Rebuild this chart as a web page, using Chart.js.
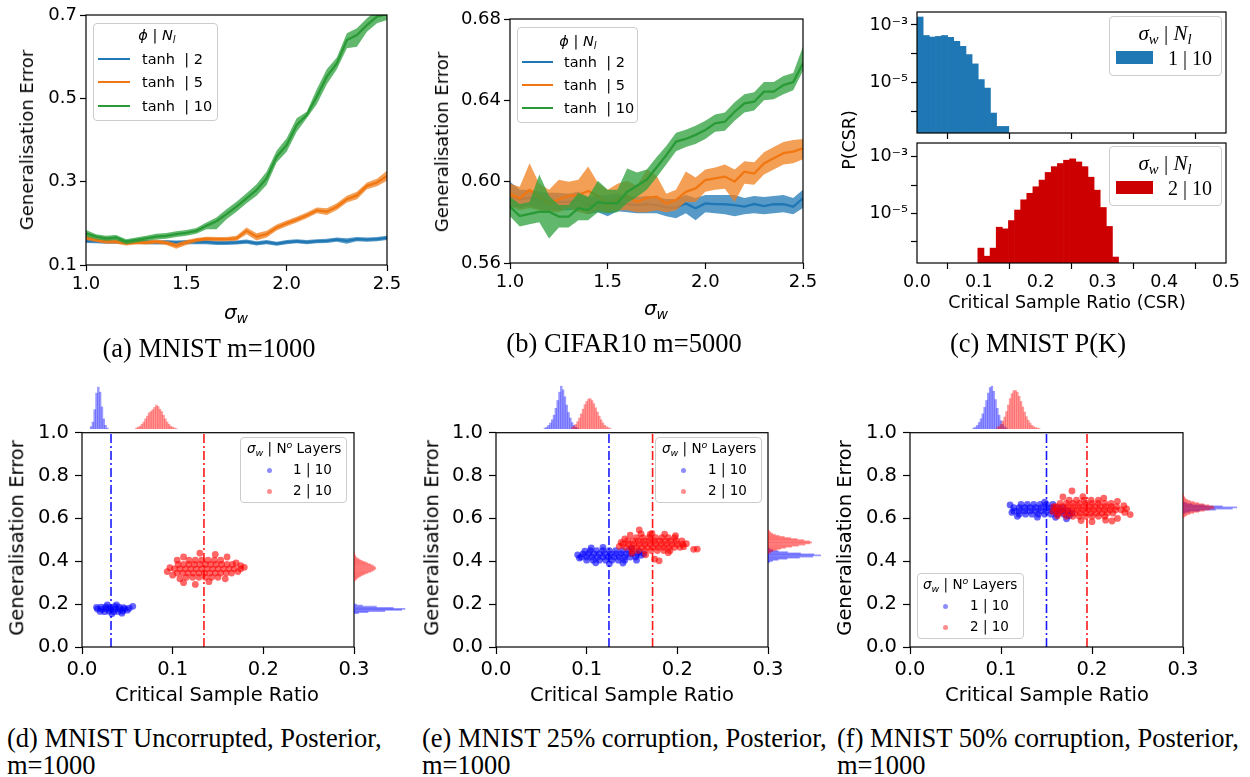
<!DOCTYPE html>
<html>
<head>
<meta charset="utf-8">
<script src="https://cdn.jsdelivr.net/npm/chart.js@4.4.1/dist/chart.umd.min.js"></script>
<style>
  body { margin: 0; width: 1250px; height: 777px; background: #fff; position: relative; overflow: hidden; font-family: 'DejaVu Sans', sans-serif; }
  canvas { position: absolute; }
  .t { position: absolute; white-space: pre; line-height: 1; color: #000; z-index: 3; }
  .c { transform: translate(-50%, -50%); }
  .lc { transform: translate(0, -50%); }
  .rot { transform: translate(-50%, -50%) rotate(-90deg); }
  .serif { font-family: 'Liberation Serif', serif; }
  .leg { position: absolute; background: rgba(255,255,255,0.8); border: 1px solid #ccc; border-radius: 4px; box-sizing: border-box; z-index: 2; }
  .sw { position: absolute; z-index: 3; }
  .sb { font-size: 70%; position: relative; top: 0.3em; }
  .sp { font-size: 70%; position: relative; top: -0.55em; }
</style>
</head>
<body>
<script>
// ---------- data: (a) MNIST m=1000 ----------
const sigma = [1.00,1.05,1.10,1.15,1.20,1.25,1.30,1.35,1.40,1.45,1.50,1.55,1.60,1.65,1.70,1.75,1.80,1.85,1.90,1.95,2.00,2.05,2.10,2.15,2.20,2.25,2.30,2.35,2.40,2.45,2.50];
const sigmaTicks = [1.0, 1.5, 2.0, 2.5];

const aBlueMean = [.158,.157,.156,.156,.155,.156,.155,.154,.155,.154,.155,.155,.155,.153,.153,.154,.156,.152,.155,.151,.155,.157,.155,.157,.158,.161,.158,.162,.161,.162,.165];
const aBlueLo   = [.153,.152,.151,.151,.150,.151,.150,.149,.150,.149,.150,.150,.150,.148,.148,.149,.151,.147,.150,.146,.150,.152,.150,.152,.153,.156,.151,.157,.156,.157,.160];
const aBlueHi   = [.163,.162,.161,.161,.160,.161,.160,.159,.160,.159,.160,.160,.160,.158,.158,.159,.161,.157,.160,.156,.160,.162,.160,.162,.163,.166,.164,.167,.166,.167,.170];
const aOrangeMean = [.166,.160,.156,.156,.152,.154,.154,.156,.153,.146,.154,.160,.163,.162,.162,.164,.182,.168,.174,.190,.200,.209,.219,.231,.228,.240,.258,.267,.290,.298,.314];
const aOrangeLo   = [.160,.155,.151,.151,.147,.149,.149,.151,.148,.139,.148,.155,.158,.157,.157,.158,.174,.159,.166,.183,.193,.202,.212,.224,.220,.232,.250,.258,.282,.289,.302];
const aOrangeHi   = [.172,.165,.161,.161,.157,.159,.159,.161,.158,.152,.160,.165,.168,.167,.167,.170,.190,.176,.182,.197,.207,.216,.226,.238,.236,.248,.266,.276,.298,.307,.326];
const aGreenMean = [.176,.168,.164,.166,.156,.160,.164,.168,.170,.174,.177,.182,.194,.205,.222,.240,.260,.280,.308,.360,.388,.436,.460,.504,.552,.584,.640,.652,.676,.696,.702];
const aGreenLo   = [.168,.162,.158,.160,.150,.154,.158,.161,.163,.167,.170,.175,.186,.186,.210,.228,.248,.266,.292,.346,.372,.420,.452,.486,.534,.570,.620,.624,.660,.680,.688];
const aGreenHi   = [.184,.174,.170,.172,.162,.166,.170,.175,.177,.181,.184,.189,.202,.214,.234,.252,.272,.294,.324,.374,.404,.452,.468,.522,.570,.598,.656,.668,.692,.712,.716];
const aYTicks = [0.1, 0.3, 0.5, 0.7];

// ---------- data: (b) CIFAR10 m=5000 ----------
const bBlueMean = [.5930,.5913,.5920,.5907,.5900,.5900,.5900,.5910,.5885,.5890,.5897,.5900,.5890,.5885,.5890,.5885,.5872,.5872,.5893,.5869,.5893,.5890,.5889,.5885,.5877,.5890,.5880,.5889,.5890,.5877,.5918];
const bBlueLo   = [.5880,.5870,.5880,.5865,.5860,.5860,.5860,.5865,.5840,.5850,.5830,.5855,.5850,.5845,.5845,.5845,.5830,.5820,.5845,.5810,.5850,.5845,.5840,.5830,.5840,.5845,.5840,.5845,.5850,.5840,.5870];
const bBlueHi   = [.6000,.5960,.5960,.5950,.5945,.5945,.5940,.5950,.5925,.5930,.5935,.5940,.5930,.5925,.5930,.5925,.5915,.5915,.5935,.5920,.5935,.5935,.5935,.5935,.5920,.5930,.5925,.5930,.5935,.5920,.5960];
const bOrangeMean = [.5940,.5918,.5959,.5926,.5890,.5913,.5930,.5934,.5954,.5930,.5880,.5915,.5930,.5900,.5920,.5926,.5893,.5910,.5950,.5967,.6008,.6016,.6025,.6000,.6049,.6040,.6090,.6115,.6140,.6148,.6164];
const bOrangeLo   = [.5880,.5860,.5870,.5860,.5850,.5850,.5870,.5850,.5840,.5860,.5850,.5860,.5860,.5850,.5850,.5860,.5850,.5860,.5900,.5900,.5950,.5960,.5965,.5900,.5990,.5985,.6035,.6060,.6085,.6090,.6110];
const bOrangeHi   = [.5990,.5975,.6090,.5990,.5960,.6010,.6000,.6010,.6075,.5995,.5960,.5990,.6005,.5980,.6060,.6030,.5940,.5960,.6050,.6020,.6060,.6070,.6085,.6060,.6100,.6095,.6145,.6170,.6195,.6205,.6210];
const bGreenMean = [.5877,.5831,.5841,.5852,.5852,.5828,.5828,.5869,.5860,.5900,.5893,.5895,.5950,.5980,.6010,.6070,.6130,.6197,.6210,.6230,.6254,.6287,.6295,.6344,.6385,.6393,.6443,.6443,.6475,.6490,.6582];
const bGreenLo   = [.5830,.5780,.5790,.5800,.5720,.5775,.5775,.5810,.5810,.5850,.5845,.5850,.5895,.5925,.5960,.6020,.6085,.6150,.6170,.6185,.6210,.6245,.6250,.6300,.6340,.6350,.6400,.6405,.6430,.6450,.6545];
const bGreenHi   = [.5925,.5890,.5900,.6035,.5930,.5885,.5885,.5945,.5925,.6005,.5960,.5960,.6065,.6045,.6060,.6120,.6175,.6240,.6255,.6275,.6300,.6330,.6340,.6390,.6430,.6440,.6490,.6490,.6520,.6535,.6665];
const bYTicks = [0.56, 0.60, 0.64, 0.68];

// ---------- data: (c) MNIST P(K), histogram bin centres and heights ----------
const cBlueBins = [0.0050,0.0149,0.0248,0.0347,0.0446,0.0545,0.0644,0.0743,0.0842,0.0941,0.1040,0.1139,0.1238,0.1337,0.1436];
const cBlueP    = [1.9e-3,4.3e-4,3.8e-4,4.0e-4,4.3e-4,3.7e-4,2.7e-4,1.8e-4,9.3e-5,4.4e-5,1.25e-5,6.3e-6,8.5e-7,2.9e-7,2.9e-7];
const cRedBins  = [0.1034,0.1133,0.1232,0.1331,0.1430,0.1529,0.1628,0.1727,0.1826,0.1925,0.2024,0.2123,0.2222,0.2321,0.2420,0.2519,0.2618,0.2717,0.2816,0.2915,0.3014,0.3113,0.3212];
const cRedP     = [5.8e-7,3.0e-7,5.8e-7,3.2e-6,2.8e-6,5.5e-6,1.3e-5,3.0e-5,5.1e-5,8.7e-5,1.5e-4,2.8e-4,4.5e-4,5.8e-4,7.6e-4,8.5e-4,6.6e-4,4.5e-4,1.9e-4,6.6e-5,1.6e-5,3.4e-6,2.8e-7];
const cXTicks = [0.0, 0.1, 0.2, 0.3, 0.4, 0.5];
const cYTicks = [1e-6, 1e-5, 1e-4, 1e-3];
const cYLabels = ['', '10\u207B\u2075', '', '10\u207B\u00B3'];

// ---------- data: (d)(e)(f) posterior scatter, [CSR, generalisation error] ----------
const csrTicks = [0.0, 0.1, 0.2, 0.3];
const errTicks = [0.0, 0.2, 0.4, 0.6, 0.8, 1.0];

const dBlue = [
  [0.020,0.166],[0.025,0.165],[0.030,0.167],[0.035,0.164],[0.040,0.166],[0.045,0.168],
  [0.017,0.177],[0.022,0.176],[0.027,0.178],[0.032,0.175],[0.037,0.177],[0.042,0.176],[0.047,0.178],
  [0.021,0.186],[0.026,0.187],[0.031,0.185],[0.036,0.188],[0.041,0.186],[0.046,0.184],
  [0.016,0.185],[0.050,0.172],[0.052,0.181],[0.056,0.190],[0.033,0.155],[0.028,0.196],[0.038,0.197],[0.044,0.158]];
const dRed = [
  [0.115,0.325],[0.122,0.325],[0.129,0.325],[0.136,0.325],[0.143,0.325],[0.150,0.325],
  [0.105,0.345],[0.111,0.345],[0.117,0.345],[0.123,0.345],[0.129,0.345],[0.135,0.345],[0.141,0.345],[0.147,0.345],[0.153,0.345],[0.159,0.345],[0.165,0.345],
  [0.102,0.365],[0.108,0.365],[0.114,0.365],[0.120,0.365],[0.126,0.365],[0.132,0.365],[0.138,0.365],[0.144,0.365],[0.150,0.365],[0.156,0.365],[0.162,0.365],[0.168,0.365],
  [0.106,0.385],[0.112,0.385],[0.118,0.385],[0.124,0.385],[0.130,0.385],[0.136,0.385],[0.142,0.385],[0.148,0.385],[0.154,0.385],[0.160,0.385],[0.166,0.385],
  [0.118,0.405],[0.125,0.405],[0.132,0.405],[0.139,0.405],[0.146,0.405],[0.153,0.405],
  [0.094,0.352],[0.097,0.370],[0.100,0.335],[0.108,0.318],[0.112,0.300],[0.125,0.292],[0.140,0.305],[0.158,0.318],[0.172,0.352],
  [0.175,0.365],[0.179,0.372],[0.170,0.392],[0.160,0.420],[0.147,0.432],[0.130,0.438],[0.112,0.420],[0.105,0.405],[0.175,0.380]];
const dBlueMeanCsr = 0.032, dRedMeanCsr = 0.1345;

const eBlue = [
  [0.100,0.405],[0.107,0.405],[0.114,0.405],[0.121,0.405],[0.128,0.405],[0.135,0.405],[0.142,0.405],
  [0.094,0.420],[0.100,0.420],[0.106,0.420],[0.112,0.420],[0.118,0.420],[0.124,0.420],[0.130,0.420],[0.136,0.420],[0.142,0.420],[0.148,0.420],[0.154,0.420],
  [0.096,0.435],[0.102,0.435],[0.108,0.435],[0.114,0.435],[0.120,0.435],[0.126,0.435],[0.132,0.435],[0.138,0.435],[0.144,0.435],[0.150,0.435],[0.156,0.435],
  [0.104,0.450],[0.111,0.450],[0.118,0.450],[0.125,0.450],[0.132,0.450],[0.139,0.450],[0.146,0.450],
  [0.090,0.430],[0.092,0.415],[0.098,0.447],[0.105,0.462],[0.118,0.465],[0.110,0.393],[0.125,0.388],[0.140,0.392],[0.155,0.405],[0.160,0.428],[0.158,0.445],[0.150,0.460],[0.163,0.435]];
const eRed = [
  [0.150,0.450],[0.157,0.450],[0.164,0.450],[0.171,0.450],[0.178,0.450],[0.185,0.450],[0.192,0.450],
  [0.143,0.465],[0.149,0.465],[0.155,0.465],[0.161,0.465],[0.167,0.465],[0.173,0.465],[0.179,0.465],[0.185,0.465],[0.191,0.465],[0.197,0.465],[0.203,0.465],
  [0.140,0.480],[0.146,0.480],[0.152,0.480],[0.158,0.480],[0.164,0.480],[0.170,0.480],[0.176,0.480],[0.182,0.480],[0.188,0.480],[0.194,0.480],[0.200,0.480],[0.206,0.480],
  [0.145,0.495],[0.151,0.495],[0.157,0.495],[0.163,0.495],[0.169,0.495],[0.175,0.495],[0.181,0.495],[0.187,0.495],[0.193,0.495],[0.199,0.495],[0.205,0.495],
  [0.155,0.510],[0.162,0.510],[0.169,0.510],[0.176,0.510],[0.183,0.510],[0.190,0.510],[0.197,0.510],
  [0.136,0.470],[0.138,0.488],[0.142,0.505],[0.148,0.522],[0.160,0.528],[0.172,0.530],[0.186,0.527],[0.198,0.520],[0.210,0.482],[0.207,0.468],
  [0.218,0.456],[0.222,0.457],[0.150,0.438],[0.165,0.430],[0.175,0.410],[0.180,0.402],[0.190,0.440],[0.158,0.546],[0.170,0.525]];
const eBlueMeanCsr = 0.1246, eRedMeanCsr = 0.1727;

const fBlue = [
  [0.120,0.620],[0.127,0.620],[0.134,0.620],[0.141,0.620],[0.148,0.620],[0.155,0.620],[0.162,0.620],[0.169,0.620],
  [0.114,0.635],[0.120,0.635],[0.126,0.635],[0.132,0.635],[0.138,0.635],[0.144,0.635],[0.150,0.635],[0.156,0.635],[0.162,0.635],[0.168,0.635],[0.174,0.635],
  [0.114,0.650],[0.120,0.650],[0.126,0.650],[0.132,0.650],[0.138,0.650],[0.144,0.650],[0.150,0.650],[0.156,0.650],[0.162,0.650],[0.168,0.650],
  [0.122,0.665],[0.129,0.665],[0.136,0.665],[0.143,0.665],[0.150,0.665],[0.157,0.665],
  [0.110,0.663],[0.112,0.628],[0.118,0.610],[0.140,0.606],[0.160,0.605],[0.175,0.612],[0.172,0.598],[0.178,0.625],[0.148,0.676]];
const fRed = [
  [0.172,0.610],[0.179,0.610],[0.186,0.610],[0.193,0.610],[0.200,0.610],[0.207,0.610],[0.214,0.610],
  [0.163,0.625],[0.169,0.625],[0.175,0.625],[0.181,0.625],[0.187,0.625],[0.193,0.625],[0.199,0.625],[0.205,0.625],[0.211,0.625],[0.217,0.625],[0.223,0.625],
  [0.160,0.640],[0.166,0.640],[0.172,0.640],[0.178,0.640],[0.184,0.640],[0.190,0.640],[0.196,0.640],[0.202,0.640],[0.208,0.640],[0.214,0.640],[0.220,0.640],[0.226,0.640],[0.232,0.640],
  [0.161,0.655],[0.167,0.655],[0.173,0.655],[0.179,0.655],[0.185,0.655],[0.191,0.655],[0.197,0.655],[0.203,0.655],[0.209,0.655],[0.215,0.655],[0.221,0.655],[0.227,0.655],
  [0.165,0.670],[0.172,0.670],[0.179,0.670],[0.186,0.670],[0.193,0.670],[0.200,0.670],[0.207,0.670],[0.214,0.670],[0.221,0.670],
  [0.175,0.685],[0.183,0.685],[0.191,0.685],[0.199,0.685],[0.207,0.685],
  [0.178,0.728],[0.168,0.700],[0.190,0.702],[0.213,0.695],[0.228,0.680],[0.235,0.660],[0.238,0.645],[0.242,0.618],[0.236,0.628],
  [0.228,0.600],[0.215,0.592],[0.200,0.585],[0.188,0.590],[0.222,0.588],[0.158,0.655],[0.157,0.632],[0.162,0.612]];
const fBlueMeanCsr = 0.150, fRedMeanCsr = 0.1945;

// marginal histograms (relative heights)
const dTopBlueBins = [0.010,0.012,0.014,0.016,0.018,0.020,0.022,0.024,0.026,0.028];
const dTopBlueH    = [0.05,0.15,0.42,0.78,0.91,0.80,0.48,0.22,0.08,0.02];
const dTopRedBins  = [0.060,0.062,0.064,0.066,0.068,0.070,0.072,0.074,0.076,0.078,0.080,0.082,0.084,0.086,0.088,0.090,0.092,0.094,0.096,0.098,0.100,0.102,0.104];
const dTopRedH     = [0.02,0.04,0.06,0.10,0.15,0.22,0.28,0.35,0.38,0.42,0.47,0.52,0.49,0.43,0.38,0.30,0.22,0.15,0.10,0.06,0.04,0.02,0.01];
const dRightBlueBins = [0.155,0.160,0.165,0.170,0.175,0.180,0.185,0.190,0.195];
const dRightBlueH    = [0.08,0.25,0.55,0.85,0.91,0.70,0.40,0.15,0.04];
const dRightRedBins  = [0.305,0.310,0.315,0.320,0.325,0.330,0.335,0.340,0.345,0.350,0.355,0.360,0.365,0.370,0.375,0.380,0.385,0.390,0.395,0.400,0.405,0.410,0.415,0.420,0.425,0.430];
const dRightRedH     = [0.02,0.04,0.06,0.09,0.12,0.16,0.20,0.25,0.30,0.34,0.37,0.39,0.38,0.36,0.33,0.29,0.24,0.20,0.15,0.11,0.08,0.05,0.03,0.02,0.01,0.01];

const eTopBlueBins = [0.054,0.056,0.058,0.060,0.062,0.064,0.066,0.068,0.070,0.072,0.074,0.076,0.078,0.080,0.082,0.084,0.086,0.088,0.090];
const eTopBlueH    = [0.02,0.04,0.08,0.13,0.20,0.30,0.45,0.62,0.80,0.93,0.85,0.70,0.52,0.36,0.24,0.14,0.08,0.04,0.02];
const eTopRedBins  = [0.084,0.086,0.088,0.090,0.092,0.094,0.096,0.098,0.100,0.102,0.104,0.106,0.108,0.110,0.112,0.114,0.116,0.118,0.120,0.122,0.124,0.126];
const eTopRedH     = [0.03,0.06,0.10,0.16,0.24,0.33,0.43,0.53,0.60,0.65,0.66,0.62,0.55,0.46,0.37,0.28,0.20,0.13,0.08,0.05,0.03,0.01];
const eRightBlueBins = [0.390,0.395,0.400,0.405,0.410,0.415,0.420,0.425,0.430,0.435,0.440,0.445,0.450,0.455];
const eRightBlueH    = [0.03,0.08,0.18,0.34,0.56,0.80,0.94,0.82,0.58,0.35,0.18,0.08,0.03,0.01];
const eRightRedBins  = [0.430,0.435,0.440,0.445,0.450,0.455,0.460,0.465,0.470,0.475,0.480,0.485,0.490,0.495,0.500,0.505,0.510,0.515,0.520,0.525,0.530,0.535];
const eRightRedH     = [0.02,0.05,0.09,0.15,0.22,0.31,0.42,0.54,0.66,0.75,0.78,0.74,0.64,0.52,0.40,0.29,0.20,0.13,0.08,0.05,0.03,0.01];

const fTopBlueBins = [0.070,0.072,0.074,0.076,0.078,0.080,0.082,0.084,0.086,0.088,0.090,0.092,0.094,0.096,0.098,0.100,0.102,0.104,0.106];
const fTopBlueH    = [0.02,0.04,0.08,0.14,0.22,0.33,0.47,0.62,0.78,0.90,0.93,0.82,0.64,0.45,0.30,0.18,0.10,0.05,0.02];
const fTopRedBins  = [0.096,0.098,0.100,0.102,0.104,0.106,0.108,0.110,0.112,0.114,0.116,0.118,0.120,0.122,0.124,0.126,0.128,0.130,0.132,0.134,0.136,0.138,0.140,0.142];
const fTopRedH     = [0.03,0.06,0.10,0.17,0.26,0.38,0.52,0.66,0.77,0.83,0.84,0.80,0.71,0.60,0.48,0.37,0.27,0.19,0.13,0.08,0.05,0.03,0.02,0.01];
const fRightBlueBins = [0.615,0.620,0.625,0.630,0.635,0.640,0.645,0.650,0.655,0.660,0.665];
const fRightBlueH    = [0.04,0.12,0.30,0.58,0.88,0.96,0.70,0.38,0.16,0.06,0.02];
const fRightRedBins  = [0.595,0.600,0.605,0.610,0.615,0.620,0.625,0.630,0.635,0.640,0.645,0.650,0.655,0.660,0.665,0.670,0.675,0.680,0.685,0.690,0.695];
const fRightRedH     = [0.02,0.04,0.07,0.12,0.19,0.28,0.38,0.47,0.54,0.56,0.53,0.46,0.37,0.28,0.20,0.13,0.08,0.05,0.03,0.02,0.01];

// ---------- styling ----------
const TAB_BLUE = '#1f77b4', TAB_ORANGE = '#f07712', TAB_GREEN = '#2a9a36';
const BAND_BLUE = 'rgba(31,119,180,0.75)', BAND_ORANGE = 'rgba(240,127,30,0.75)', BAND_GREEN = 'rgba(44,160,60,0.75)';
const PT_BLUE = 'rgba(0,0,255,0.6)', PT_RED = 'rgba(255,0,0,0.6)';
const LEG_BLUE = 'rgba(0,0,255,0.45)', LEG_RED = 'rgba(255,0,0,0.45)';
const HI_BLUE = 'rgba(0,0,255,0.4)', HI_RED = 'rgba(255,0,0,0.4)';

Chart.defaults.font.family = "'DejaVu Sans', sans-serif";
Chart.defaults.color = '#000';
Chart.defaults.animation = false;
Chart.defaults.plugins.legend.display = false;
Chart.defaults.plugins.tooltip.enabled = false;

// box round the plot area, like matplotlib spines
const frame = {
  id: 'frame',
  afterDatasetsDraw(chart) {
    const { left, top, right, bottom } = chart.chartArea;
    const ctx = chart.ctx;
    ctx.save();
    ctx.strokeStyle = '#000';
    ctx.lineWidth = 1.2;
    ctx.strokeRect(left, top, right - left, bottom - top);
    ctx.restore();
  }
};

function addCanvas(l, t, w, h) {
  const c = document.createElement('canvas');
  c.width = w; c.height = h;
  c.style.left = l + 'px'; c.style.top = t + 'px';
  c.style.width = w + 'px'; c.style.height = h + 'px';
  document.body.appendChild(c);
  return c;
}

function linAxis(min, max, ticks, dec, size, tl, pad, labels = true) {
  return {
    type: 'linear', min, max,
    afterBuildTicks: s => { s.ticks = ticks.map(v => ({ value: v })); },
    ticks: { display: labels, font: { size }, padding: pad, autoSkip: false, maxRotation: 0, callback: v => Number(v).toFixed(dec) },
    grid: { drawOnChartArea: false, drawTicks: true, tickLength: tl, tickColor: '#000', tickWidth: 1.2 },
    border: { display: false }
  };
}

function logAxis(min, max, ticks, labels, size) {
  return {
    type: 'logarithmic', min, max,
    afterBuildTicks: s => { s.ticks = ticks.map(v => ({ value: v })); },
    ticks: { font: { size }, padding: 3, autoSkip: false, callback: (v, i) => labels[i] },
    grid: { drawOnChartArea: false, drawTicks: true, tickLength: 6, tickColor: '#000', tickWidth: 1.2 },
    border: { display: false }
  };
}

// chart whose plot area lands exactly on area {l,t,r,b}
const YW = 72, XH = 46, PT = 14, PR = 36;
function plotChart(area, type, datasets, xs, ys) {
  const c = addCanvas(area.l - YW, area.t - PT, area.r - area.l + YW + PR, area.b - area.t + PT + XH);
  xs.afterFit = s => { s.height = XH; };
  ys.afterFit = s => { s.width = YW; };
  return new Chart(c, {
    type,
    data: { datasets },
    options: { responsive: false, layout: { padding: { left: 0, top: PT, right: PR, bottom: 0 } }, scales: { x: xs, y: ys } },
    plugins: [frame]
  });
}

function bandSets(lo, mean, hi, line, band, ord) {
  const pts = a => sigma.map((x, i) => ({ x, y: a[i] }));
  return [
    { data: pts(lo), borderWidth: 0, pointRadius: 0, fill: false, order: ord + 1 },
    { data: pts(hi), borderWidth: 0, pointRadius: 0, fill: '-1', backgroundColor: band, order: ord + 1 },
    { data: pts(mean), borderColor: line, borderWidth: 2.3, pointRadius: 0, fill: false, order: ord }
  ];
}

function histChart(l, t, w, h, horiz, range, sets) {
  const c = addCanvas(l, t, w, h);
  const idx = { type: 'linear', min: range[0], max: range[1], display: false, offset: false };
  const val = { type: 'linear', min: 0, max: 1, display: false };
  return new Chart(c, {
    type: 'bar',
    data: {
      datasets: sets.map(s => ({
        data: s.bins.map((b, i) => horiz ? { x: s.h[i], y: b } : { x: b, y: s.h[i] }),
        backgroundColor: s.color, grouped: false, barPercentage: 1, categoryPercentage: 1, borderWidth: 0, order: s.order
      }))
    },
    options: { responsive: false, indexAxis: horiz ? 'y' : 'x', layout: { padding: 0 }, scales: horiz ? { x: val, y: idx } : { x: idx, y: val } }
  });
}

// ---------- (a) ----------
plotChart({ l: 86, t: 15, r: 387, b: 265 }, 'line',
  [...bandSets(aBlueLo, aBlueMean, aBlueHi, TAB_BLUE, BAND_BLUE, 5),
   ...bandSets(aOrangeLo, aOrangeMean, aOrangeHi, TAB_ORANGE, BAND_ORANGE, 3),
   ...bandSets(aGreenLo, aGreenMean, aGreenHi, TAB_GREEN, BAND_GREEN, 1)],
  linAxis(1.0, 2.5, sigmaTicks, 1, 18, 6, 3),
  linAxis(0.1, 0.7, aYTicks, 1, 18, 6, 3));

// ---------- (b) ----------
plotChart({ l: 510, t: 19, r: 803, b: 263 }, 'line',
  [...bandSets(bBlueLo, bBlueMean, bBlueHi, TAB_BLUE, BAND_BLUE, 5),
   ...bandSets(bOrangeLo, bOrangeMean, bOrangeHi, TAB_ORANGE, BAND_ORANGE, 3),
   ...bandSets(bGreenLo, bGreenMean, bGreenHi, TAB_GREEN, BAND_GREEN, 1)],
  linAxis(1.0, 2.5, sigmaTicks, 1, 18, 6, 3),
  linAxis(0.56, 0.68, bYTicks, 2, 18, 6, 3));

// ---------- (c) ----------
const histSet = (bins, p, color) => [{
  data: bins.map((b, i) => ({ x: b, y: p[i] })), backgroundColor: color,
  barPercentage: 1, categoryPercentage: 1, borderWidth: 0
}];
const cXTop = linAxis(0, 0.5, cXTicks, 1, 17.5, 6, 3, false); cXTop.offset = false;
const cXBot = linAxis(0, 0.5, cXTicks, 1, 17.5, 6, 3); cXBot.offset = false;
plotChart({ l: 917, t: 12, r: 1226, b: 133 }, 'bar', histSet(cBlueBins, cBlueP, TAB_BLUE), cXTop, logAxis(1.71e-7, 2.84e-3, cYTicks, cYLabels, 17.5));
plotChart({ l: 917, t: 143, r: 1226, b: 263 }, 'bar', histSet(cRedBins, cRedP, '#cc0000'), cXBot, logAxis(1.72e-7, 3.1e-3, cYTicks, cYLabels, 17.5));

// ---------- (d)(e)(f) ----------
function posterior(area, blue, red, blueMean, redMean, topSets, rightSets) {
  const vline = (v, color) => ({ data: [[v, 0], [v, 1]], showLine: true, borderColor: color, borderWidth: 1.6, borderDash: [9, 3, 2, 3], pointRadius: 0, order: 0 });
  plotChart(area, 'scatter', [
    { data: blue, backgroundColor: PT_BLUE, borderWidth: 0, pointRadius: 3.4, order: 2 },
    { data: red, backgroundColor: PT_RED, borderWidth: 0, pointRadius: 3.4, order: 1 },
    vline(blueMean, 'rgba(0,0,255,0.9)'),
    vline(redMean, 'rgba(255,0,0,0.9)')
  ], linAxis(0, 0.3, csrTicks, 1, 19.5, 7, 4), linAxis(0, 1, errTicks, 1, 19.5, 7, 6));
  histChart(area.l, area.t - 46, area.r - area.l, 46, false, [0, 0.3], topSets);
  histChart(area.r, area.t, 56, area.b - area.t, true, [0, 1], rightSets);
}
posterior({ l: 82, t: 429, r: 354, b: 647 }, dBlue, dRed, dBlueMeanCsr, dRedMeanCsr,
  [{ bins: dTopBlueBins, h: dTopBlueH, color: HI_BLUE, order: 2 }, { bins: dTopRedBins, h: dTopRedH, color: HI_RED, order: 1 }],
  [{ bins: dRightBlueBins, h: dRightBlueH, color: HI_BLUE, order: 2 }, { bins: dRightRedBins, h: dRightRedH, color: HI_RED, order: 1 }]);
posterior({ l: 496, t: 429, r: 768, b: 647 }, eBlue, eRed, eBlueMeanCsr, eRedMeanCsr,
  [{ bins: eTopBlueBins, h: eTopBlueH, color: HI_BLUE, order: 2 }, { bins: eTopRedBins, h: eTopRedH, color: HI_RED, order: 1 }],
  [{ bins: eRightBlueBins, h: eRightBlueH, color: HI_BLUE, order: 2 }, { bins: eRightRedBins, h: eRightRedH, color: HI_RED, order: 1 }]);
posterior({ l: 910, t: 429, r: 1183, b: 647 }, fBlue, fRed, fBlueMeanCsr, fRedMeanCsr,
  [{ bins: fTopBlueBins, h: fTopBlueH, color: HI_BLUE, order: 2 }, { bins: fTopRedBins, h: fTopRedH, color: HI_RED, order: 1 }],
  [{ bins: fRightBlueBins, h: fRightBlueH, color: HI_BLUE, order: 2 }, { bins: fRightRedBins, h: fRightRedH, color: HI_RED, order: 1 }]);

// ---------- text, legends, captions ----------
let html = '';
const txt = (x, y, s, cls, style = '') => { html += `<div class="t ${cls}" style="left:${x}px;top:${y}px;${style}">${s}</div>`; };
const box = (l, t, w, h) => { html += `<div class="leg" style="left:${l}px;top:${t}px;width:${w}px;height:${h}px"></div>`; };
const swatch = (l, t, w, h, color, round) => { html += `<div class="sw" style="left:${l}px;top:${t}px;width:${w}px;height:${h}px;background:${color};${round ? 'border-radius:50%;' : ''}"></div>`; };
const SIGW = '<i>σ<span class="sb">w</span></i>';

// axis titles
txt(27, 140, 'Generalisation Error', 'rot', 'font-size:18px');
txt(442, 142, 'Generalisation Error', 'rot', 'font-size:18px');
txt(236, 312, SIGW, 'c', 'font-size:20px');
txt(656, 308, SIGW, 'c', 'font-size:20px');
txt(850, 140, 'P(CSR)', 'rot', 'font-size:17.5px');
txt(1067, 303, 'Critical Sample Ratio (CSR)', 'c', 'font-size:17.5px');
[[17, 217], [432, 632], [845, 1047]].forEach(([yx, xx]) => {
  txt(yx, 538, 'Generalisation Error', 'rot', 'font-size:19.5px');
  txt(xx, 695, 'Critical Sample Ratio', 'c', 'font-size:19.5px');
});

// legends (a)(b)
function lineLegend(l, t, w, h, titleX, titleY, lineX, lineW, textX, rows) {
  box(l, t, w, h);
  txt(titleX, titleY, '<i>ϕ</i> | <i>N<span class="sb">l</span></i>', 'c', 'font-size:14.5px');
  const labels = ['tanh  | 2', 'tanh  | 5', 'tanh  | 10'];
  [TAB_BLUE, TAB_ORANGE, TAB_GREEN].forEach((col, i) => {
    swatch(lineX, rows[i] - 1.1, lineW, 2.3, col);
    txt(textX, rows[i], labels[i], 'lc', 'font-size:14.5px');
  });
}
lineLegend(93, 23, 125, 98, 157, 35, 98, 32, 142, [59, 82, 106]);
lineLegend(517, 27, 121, 96, 578, 41, 522, 31, 564, [62, 85, 108]);

// legends (c)
function patchLegend(t, color, label) {
  box(1109, t, 113, 60);
  txt(1165, t + 17, '<i>σ<span class="sb">w</span></i> | <i>N<span class="sb">l</span></i>', 'c serif', 'font-size:21px');
  swatch(1116, t + 35, 37, 13, color);
  txt(1168, t + 42, label, 'lc serif', 'font-size:20px');
}
patchLegend(16, TAB_BLUE, '1 | 10');
patchLegend(146, '#cc0000', '2 | 10');

// legends (d)(e)(f)
function dotLegend(l, t, titleX, dotX, textX) {
  box(l, t, 107, 66);
  txt(titleX, t + 12, SIGW + ' | N<i><span class="sp">o</span></i> Layers', 'lc', 'font-size:13.5px');
  [[LEG_BLUE, '1 | 10', 33], [LEG_RED, '2 | 10', 54]].forEach(([c, s, dy]) => {
    swatch(dotX - 2.5, t + dy - 2.5, 5, 5, c, true);
    txt(textX, t + dy, s, 'lc', 'font-size:13.5px');
  });
}
dotLegend(240, 437, 247, 269, 293);
dotLegend(655, 437, 662, 683, 708);
dotLegend(917, 573, 923, 945, 970);

// captions
txt(209, 348, '(a) MNIST m=1000', 'c serif', 'font-size:26.5px');
txt(624, 343, '(b) CIFAR10 m=5000', 'c serif', 'font-size:26.5px');
txt(1038, 343, '(c) MNIST P(K)', 'c serif', 'font-size:26.5px');
[[7, '(d) MNIST Uncorrupted, Posterior,'], [422, '(e) MNIST 25% corruption, Posterior,'], [837, '(f) MNIST 50% corruption, Posterior,']].forEach(([x, s]) => {
  txt(x, 738, s, 'lc serif', 'font-size:26.5px');
  txt(x, 765, 'm=1000', 'lc serif', 'font-size:26.5px');
});

document.body.insertAdjacentHTML('beforeend', html);
</script>
</body>
</html>
